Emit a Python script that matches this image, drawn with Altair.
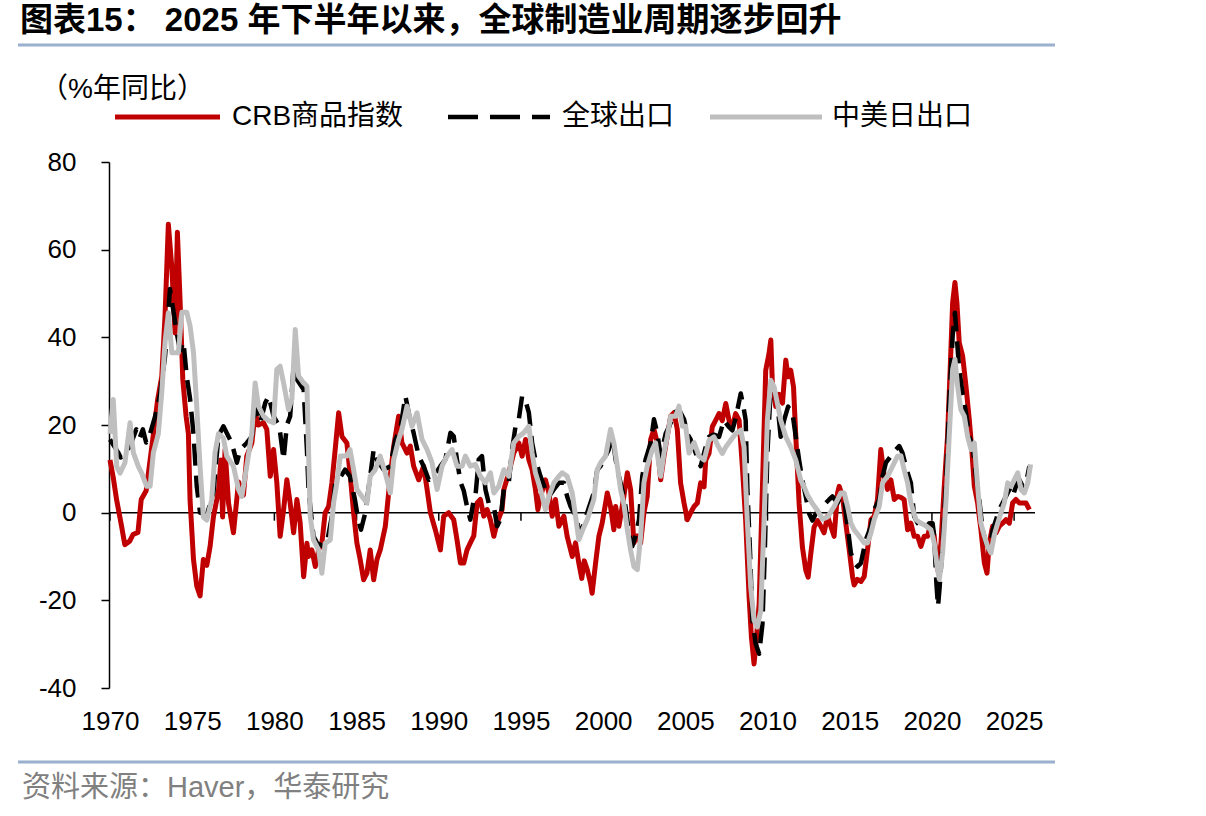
import altair as alt
import pandas as pd

# ---- series: year-on-year % change, dated in decimal years ----
crb_year = [1970.00, 1970.20, 1970.40, 1970.70, 1970.90, 1971.20, 1971.40, 1971.70, 1971.90, 1972.20,
            1972.60, 1972.90, 1973.15, 1973.35, 1973.55, 1973.76, 1973.96, 1974.10, 1974.26, 1974.43,
            1974.63, 1974.77, 1974.87, 1975.08, 1975.28, 1975.48, 1975.68, 1975.89, 1976.09, 1976.29,
            1976.60, 1976.75, 1976.85, 1977.00, 1977.21, 1977.51, 1977.82, 1978.12, 1978.32, 1978.63,
            1978.83, 1979.03, 1979.34, 1979.54, 1979.75, 1979.95, 1980.15, 1980.35, 1980.56, 1980.76,
            1980.96, 1981.17, 1981.37, 1981.57, 1981.78, 1981.98, 1982.08, 1982.28, 1982.49, 1982.69,
            1982.89, 1983.09, 1983.30, 1983.50, 1983.70, 1983.91, 1984.11, 1984.41, 1984.60, 1984.82,
            1985.02, 1985.22, 1985.43, 1985.63, 1985.83, 1986.04, 1986.24, 1986.44, 1986.75, 1987.05,
            1987.26, 1987.56, 1987.76, 1988.07, 1988.27, 1988.47, 1988.78, 1989.08, 1989.29, 1989.49,
            1989.79, 1990.10, 1990.30, 1990.60, 1990.91, 1991.11, 1991.32, 1991.52, 1991.72, 1991.92,
            1992.13, 1992.33, 1992.53, 1992.74, 1992.94, 1993.14, 1993.35, 1993.55, 1993.85, 1993.96,
            1994.26, 1994.56, 1994.87, 1995.07, 1995.28, 1995.48, 1995.68, 1995.88, 1996.03, 1996.19,
            1996.49, 1996.70, 1996.90, 1997.10, 1997.31, 1997.61, 1997.81, 1998.12, 1998.32, 1998.52,
            1998.70, 1998.85, 1999.03, 1999.23, 1999.33, 1999.54, 1999.74, 1999.94, 2000.15, 2000.25,
            2000.45, 2000.65, 2000.76, 2000.96, 2001.26, 2001.47, 2001.67, 2001.87, 2002.08, 2002.28,
            2002.48, 2002.68, 2002.89, 2003.09, 2003.29, 2003.50, 2003.70, 2003.90, 2004.11, 2004.31,
            2004.51, 2004.71, 2004.92, 2005.12, 2005.32, 2005.53, 2005.73, 2005.93, 2006.14, 2006.24,
            2006.44, 2006.64, 2006.85, 2007.05, 2007.25, 2007.46, 2007.66, 2007.86, 2008.06, 2008.27,
            2008.47, 2008.67, 2008.88, 2009.02, 2009.18, 2009.34, 2009.49, 2009.69, 2009.89, 2010.09,
            2010.20, 2010.30, 2010.50, 2010.70, 2010.91, 2011.11, 2011.25, 2011.41, 2011.58, 2011.72,
            2011.92, 2012.12, 2012.33, 2012.47, 2012.63, 2012.83, 2013.04, 2013.24, 2013.44, 2013.65,
            2013.85, 2014.05, 2014.26, 2014.36, 2014.56, 2014.76, 2014.97, 2015.17, 2015.27, 2015.47,
            2015.68, 2015.88, 2016.08, 2016.29, 2016.49, 2016.69, 2016.89, 2017.10, 2017.30, 2017.50,
            2017.71, 2017.91, 2018.11, 2018.31, 2018.52, 2018.72, 2018.92, 2019.13, 2019.33, 2019.53,
            2019.73, 2019.94, 2020.14, 2020.34, 2020.55, 2020.75, 2020.95, 2021.11, 2021.26, 2021.40,
            2021.52, 2021.66, 2021.87, 2022.07, 2022.27, 2022.41, 2022.58, 2022.78, 2022.98, 2023.19,
            2023.35, 2023.49, 2023.69, 2023.90, 2024.10, 2024.30, 2024.50, 2024.71, 2024.91, 2025.11,
            2025.32, 2025.52, 2025.72, 2025.93]
crb_yoy = [12, 8, 3, -3, -7.3, -6.5, -5, -4.5, 3, 5,
           16.7, 25.8, 31, 45, 65.8, 56, 41, 64, 48.7, 30.4,
           22, 18, 3, -10.7, -16.8, -19, -10.7, -12, -7.7, -1,
           5, 12, -1, 14.4, 2.2, -4.6, 7, 4, 12.9, 15.9,
           22.8, 20, 20.5, 19, 8.3, 14.4, 6.8, -5.4, 0.7, 7.5,
           2.2, -4.6, 3, -2.4, -14.6, -7, -10, -8.5, -12.3, -8.5,
           -7, 0, 1.4, 6.8, 14.4, 22.8, 17.4, 15.9, 9.1, 0,
           -6.9, -10.7, -15.3, -13.8, -8.5, -15.3, -10.7, -8.5, -3.1, 8.3,
           15.2, 22, 15.9, 13.6, 15.2, 10.6, 7.5, 10.6, 5.3, 0,
           -3.9, -8.5, -0.8, 0, -1.6, -6.2, -11.5, -11.5, -8.5, -6.9,
           -5.3, 2.2, 3, -0.8, 0.7, -1.6, -5.4, -2.3, 0.7, 5.3,
           9.1, 13.6, 15.9, 12.9, 16.7, 12.1, 9.8, 5.3, 0.7, 3.7,
           7.5, 4.5, -0.8, 3, -3.1, -0.8, -5.4, -10, -6.9, -11.5,
           -15, -11, -13, -16, -18.4, -11.5, -5.4, -2.4, 2.2, 4.5,
           1.4, -3.9, 1.4, -3.1, 3.7, 9.1, 5.3, -6.9, -5.3, -6.9,
           0, 3.7, 16.7, 19, 16, 7.5, 12.9, 17.4, 22, 22.8,
           19, 6.8, 2.2, -1.6, 0, 1.4, 2.2, 6.8, 5.9, 12,
           13.5, 19.6, 21.1, 22.6, 21, 24.9, 21, 19.6, 22.6, 21.1,
           10.4, -1.8, -19.3, -28.4, -34.5, -28, -20.8, 5.9, 32.5, 36.3,
           39.4, 28.7, 24.2, 27, 25, 34.8, 31, 32.5, 28.7, 17.3,
           2.1, -7.8, -13.2, -14.7, -9.4, -3.3, -1.8, -3.1, -4.6, -0.8,
           -3.1, -5.4, 4.5, 6, 3.7, -2.4, -8.5, -14.6, -16.5, -15.2,
           -15.7, -14.6, -8.5, -1.6, -0.8, 3, 14.4, 8.3, 5.3, 7.5,
           3, 3.7, 3.5, 3, -3.9, -2.4, -5.4, -5.4, -7.7, -5.4,
           -5.4, -2.4, -5.4, -13, -7, 6, 17.4, 32.7, 47.9, 52.5,
           47.9, 38.8, 35.7, 28.9, 21.3, 15.2, 6, 2.2, -3.9, -11.5,
           -13.8, -6.9, -3.1, -4.6, -3.1, -2.4, -1.6, -2.4, 2.2, 3,
           2.2, 2.2, 2.2, 0.7]

world_year = [1970.00, 1970.50, 1970.65, 1971.20, 1971.60, 1971.80, 1972.00, 1972.20, 1972.40, 1972.75,
              1973.05, 1973.35, 1973.65, 1973.86, 1974.06, 1974.26, 1974.47, 1974.67, 1974.87, 1975.08,
              1975.28, 1975.48, 1975.89, 1976.29, 1976.60, 1976.90, 1977.21, 1977.41, 1977.72, 1977.92,
              1978.32, 1978.63, 1978.83, 1979.14, 1979.44, 1979.65, 1979.95, 1980.30, 1980.56, 1980.76,
              1980.96, 1981.17, 1981.37, 1981.78, 1981.98, 1982.08, 1982.38, 1982.59, 1982.99, 1983.19,
              1983.50, 1983.70, 1984.00, 1984.30, 1984.60, 1984.90, 1985.10, 1985.27, 1985.53, 1985.83,
              1986.04, 1986.24, 1986.65, 1987.05, 1987.36, 1987.66, 1987.97, 1988.17, 1988.47, 1988.78,
              1989.08, 1989.39, 1989.69, 1990.10, 1990.40, 1990.71, 1990.91, 1991.11, 1991.32, 1991.52,
              1991.72, 1991.92, 1992.13, 1992.23, 1992.43, 1992.63, 1992.84, 1993.04, 1993.35, 1993.55,
              1993.75, 1993.96, 1994.26, 1994.46, 1994.67, 1994.87, 1995.07, 1995.28, 1995.48, 1995.68,
              1995.88, 1996.19, 1996.49, 1996.70, 1997.00, 1997.31, 1997.61, 1997.81, 1998.02, 1998.32,
              1998.62, 1999.03, 1999.43, 1999.64, 1999.84, 2000.04, 2000.35, 2000.55, 2000.76, 2000.96,
              2001.16, 2001.36, 2001.57, 2001.77, 2001.97, 2002.18, 2002.38, 2002.58, 2002.89, 2003.09,
              2003.29, 2003.50, 2003.80, 2004.11, 2004.31, 2004.61, 2004.92, 2005.12, 2005.32, 2005.63,
              2005.93, 2006.24, 2006.44, 2006.74, 2007.05, 2007.35, 2007.66, 2007.86, 2008.06, 2008.37,
              2008.53, 2008.67, 2008.77, 2008.94, 2009.08, 2009.28, 2009.49, 2009.69, 2009.83, 2009.99,
              2010.20, 2010.40, 2010.60, 2010.80, 2011.00, 2011.25, 2011.52, 2011.72, 2011.92, 2012.12,
              2012.33, 2012.53, 2012.73, 2012.94, 2013.24, 2013.54, 2013.75, 2013.95, 2014.26, 2014.46,
              2014.66, 2014.87, 2015.07, 2015.27, 2015.47, 2015.68, 2015.98, 2016.29, 2016.49, 2016.79,
              2017.00, 2017.20, 2017.50, 2017.81, 2018.01, 2018.21, 2018.52, 2018.72, 2018.92, 2019.13,
              2019.33, 2019.53, 2019.84, 2020.04, 2020.14, 2020.27, 2020.37, 2020.47, 2020.65, 2020.85,
              2021.05, 2021.26, 2021.40, 2021.52, 2021.66, 2021.87, 2022.07, 2022.27, 2022.48, 2022.68,
              2022.88, 2023.08, 2023.29, 2023.49, 2023.69, 2023.90, 2024.10, 2024.30, 2024.50, 2024.71,
              2024.91, 2025.11, 2025.32, 2025.52, 2025.72, 2025.93]
world_yoy = [16.7, 13.7, 12.6, 15, 19, 17, 19, 16, 17.5, 22,
             27, 35.7, 51, 46, 41, 37, 39, 31, 26, 18,
             6, 0, -0.5, 4.5, 17.5, 19.7, 17.4, 15.9, 11.4, 14.4,
             15.9, 17.4, 24.3, 20.5, 25, 26.6, 22, 19.7, 12.1, 20,
             22, 33.4, 30.4, 28.1, 14.4, 5, -5.4, -6.9, -7.7, -7,
             -0.8, 6.8, 8, 9.8, 8.3, 3, -1.6, -3.9, 0, 8.3,
             14.4, 12.1, 9.8, 10.6, 16.7, 19, 26.6, 22.8, 18.2, 12.9,
             10.6, 7.5, 8.3, 10.6, 12.1, 18.2, 17.4, 12, 7, 5,
             1.4, -1.6, 3, 3.7, 12.1, 12.9, 5.3, 2.2, 1.4, -3.1,
             -1.6, 5.3, 6.8, 14.4, 19.7, 21.3, 26.6, 25.5, 22.8, 15.9,
             12.1, 8.3, 5.3, 3.7, 5.3, 6.8, 6.8, 3.7, 1.4, -0.8,
             -5, 0, 4.5, 9.8, 10.6, 12.1, 14.4, 18.2, 12.1, 8.3,
             5.3, 1.4, -4.6, -7.7, -5.3, -1.6, 8.3, 12.1, 15.9, 21.3,
             18.2, 12.9, 18, 20.5, 22.8, 23.5, 21.3, 18, 16.7, 13.6,
             10.6, 15, 17.3, 17.8, 17.3, 21.1, 19.5, 18.8, 21.5, 27.2,
             24.2, 21.1, 5.9, -9.4, -24.6, -29.9, -32.2, -25.4, -9.4, 13.5,
             28.7, 28, 24.9, 17.3, 21, 24.2, 22.6, 17.3, 12, 7.4,
             3.6, -0.2, -1.8, -0.2, 0.7, 2.2, 3, 3.7, 2.2, 3.7,
             3, -3.1, -9.2, -11.5, -12.3, -11.5, -6.2, -3.1, 0.7, 3,
             8.3, 11.4, 12.9, 14.4, 15.2, 13.6, 9.1, 6.8, -0.8, -2.4,
             -3.1, -3.9, -2.4, -2.4, -5.4, -16, -21.4, -17, -6.9, 6,
             25, 40.3, 45.6, 39.5, 32.7, 27, 22.8, 17.4, 15.2, 8.3,
             3, -3.9, -6.9, -8.5, -4, -1.6, 0.7, 2.2, 3.7, 5.3,
             3.7, 6, 7.5, 6, 6.8, 10.6]

cuj_year = [1970.00, 1970.20, 1970.41, 1970.61, 1970.91, 1971.22, 1971.42, 1971.73, 1971.93, 1972.23,
            1972.44, 1972.64, 1972.94, 1973.15, 1973.35, 1973.55, 1973.76, 1974.16, 1974.37, 1974.67,
            1974.87, 1975.08, 1975.28, 1975.48, 1975.68, 1975.89, 1976.19, 1976.39, 1976.60, 1976.90,
            1977.10, 1977.51, 1977.82, 1978.02, 1978.32, 1978.63, 1978.83, 1979.03, 1979.34, 1979.64,
            1979.95, 1980.15, 1980.35, 1980.56, 1980.86, 1981.07, 1981.27, 1981.47, 1981.78, 1981.98,
            1982.18, 1982.38, 1982.69, 1982.89, 1983.09, 1983.40, 1983.60, 1983.80, 1984.01, 1984.41,
            1984.60, 1984.82, 1985.02, 1985.33, 1985.63, 1985.83, 1986.14, 1986.44, 1986.75, 1987.05,
            1987.26, 1987.56, 1987.76, 1988.07, 1988.37, 1988.68, 1988.98, 1989.29, 1989.59, 1989.90,
            1990.20, 1990.50, 1990.81, 1991.11, 1991.42, 1991.62, 1991.92, 1992.23, 1992.53, 1992.84,
            1993.14, 1993.35, 1993.65, 1993.96, 1994.26, 1994.56, 1994.87, 1995.17, 1995.48, 1995.68,
            1995.88, 1996.19, 1996.49, 1996.70, 1997.00, 1997.31, 1997.51, 1997.81, 1998.12, 1998.32,
            1998.52, 1998.80, 1999.03, 1999.43, 1999.64, 1999.84, 2000.15, 2000.45, 2000.65, 2000.86,
            2001.06, 2001.26, 2001.47, 2001.67, 2001.87, 2002.08, 2002.28, 2002.48, 2002.68, 2002.99,
            2003.19, 2003.50, 2003.70, 2003.90, 2004.11, 2004.41, 2004.61, 2004.82, 2005.02, 2005.22,
            2005.53, 2005.83, 2006.14, 2006.44, 2006.74, 2006.95, 2007.25, 2007.46, 2007.76, 2008.06,
            2008.37, 2008.57, 2008.77, 2008.98, 2009.18, 2009.38, 2009.59, 2009.79, 2009.99, 2010.20,
            2010.40, 2010.60, 2010.80, 2011.11, 2011.41, 2011.72, 2012.02, 2012.23, 2012.43, 2012.73,
            2013.04, 2013.34, 2013.65, 2014.05, 2014.46, 2014.66, 2014.87, 2015.07, 2015.27, 2015.58,
            2015.88, 2016.08, 2016.29, 2016.49, 2016.79, 2017.00, 2017.30, 2017.61, 2017.91, 2018.11,
            2018.31, 2018.52, 2018.72, 2019.03, 2019.33, 2019.63, 2019.94, 2020.14, 2020.34, 2020.45,
            2020.65, 2020.85, 2021.05, 2021.26, 2021.40, 2021.56, 2021.76, 2021.97, 2022.17, 2022.38,
            2022.58, 2022.78, 2022.98, 2023.19, 2023.39, 2023.59, 2023.80, 2024.00, 2024.20, 2024.40,
            2024.61, 2024.81, 2025.01, 2025.22, 2025.42, 2025.62, 2025.83, 2026.00]
cuj_yoy = [18, 25.8, 10.5, 9, 11.4, 20.5, 13.7, 10.5, 9, 6,
           6, 13.7, 18, 27.4, 38.9, 45.6, 36.5, 36.5, 45.7, 45.7,
           42.6, 36.5, 24, 10.5, -1, -1.7, 3, 13.7, 18, 17,
           12.9, 10.6, 5.3, 3.7, 10.6, 18.2, 29.6, 24.3, 22, 21,
           20.5, 32.7, 33.4, 29.6, 23.5, 26, 41.8, 31.2, 29.6, 28.9,
           -0.8, -6.2, -8.5, -13.8, -7, -6.2, 2.2, 6.8, 12.9, 12.9,
           14.4, 9.8, 5.3, 3.7, 2.2, 8.3, 9.8, 12.9, 9, 4.5,
           12.1, 16.7, 19, 24.3, 19.7, 22.8, 16.7, 14.4, 11.4, 5.3,
           10.6, 12.9, 14.4, 10.6, 10.6, 12.9, 10.6, 11, 8.3, 6.8,
           9.1, 4.5, 6, 9.8, 8.3, 15.9, 17.4, 18.2, 19.7, 13.6,
           9.1, 5.3, 0.7, 3.7, 6.8, 8.3, 9.1, 8.3, 4.5, -0.8,
           -6.2, -3.5, -1.6, 3, 9.8, 11.4, 12.9, 19, 15.9, 10.6,
           5.3, 2, -3.9, -8.5, -12.3, -13, -5.4, 6.8, 10.6, 14.4,
           15.9, 8.3, 13.6, 17.4, 22, 22, 24.3, 19.7, 19.7, 13.6,
           16, 12.9, 12, 16.5, 17.3, 15.5, 13.5, 15, 16.5, 18,
           18.8, 15, -1.8, -17, -24.6, -26.1, -22.3, -1.8, 21.1, 30.2,
           28.7, 24.9, 21.1, 17.3, 15, 12, 7.4, 5.9, 4, 2.1,
           0.5, -1.5, -1, 1.4, 4.5, 4.5, 1.4, -2.4, -3.9, -5.4,
           -6.9, -6.9, -4.6, -1.6, 1.4, 6.8, 8.3, 10.6, 12.9, 13,
           9.8, 6.8, 2.2, -1.6, -2.4, -3, -3.9, -6.9, -13, -15.2,
           -9.2, 2.2, 17.4, 32.7, 35, 28.9, 23.5, 22, 17.4, 14.4,
           15.9, 6, -2.4, -5.4, -7.7, -9.2, -5, -2.4, 0, 2.2,
           6.8, 6, 7.5, 9.1, 5.3, 4.5, 6.8, 11]

# ---- axes and texts ----
x_ticks = [1970, 1975, 1980, 1985, 1990, 1995, 2000, 2005, 2010, 2015, 2020, 2025]
y_ticks = [-40, -20, 0, 20, 40, 60, 80]

title_text = "图表15： 2025 年下半年以来，全球制造业周期逐步回升"
unit_text = "（%年同比）"
legend_names = ["CRB商品指数", "全球出口", "中美日出口"]
source_text = "资料来源：Haver，华泰研究"

RED, BLACK, GREY = "#C00000", "#000000", "#BFBFBF"
RULE_BLUE = "#9AB0CE"
FONT = "Liberation Sans, Noto Sans CJK SC"

# plot area geometry (pixels)
W, H = 926, 526
PAD = {"left": 109, "top": 162, "right": 1206 - 109 - W, "bottom": 816 - 162 - H}
Y_ZERO = H * 80 / 120

x_scale = alt.Scale(domain=[1969.94, 2026.27], nice=False, zero=False)
y_scale = alt.Scale(domain=[-40, 80], nice=False, zero=False)

x_axis = alt.Axis(values=x_ticks, labelExpr="'' + datum.value", domain=False, ticks=False,
                  tickSize=0, grid=False, title=None, labelFont=FONT, labelFontSize=26,
                  labelColor="black", labelPadding=20, labelFlush=False, labelOverlap=False)
y_axis = alt.Axis(values=y_ticks, labelExpr="'' + datum.value", domainColor="black",
                  domainWidth=1.5, tickColor="black", tickWidth=1.5, tickSize=8, grid=False,
                  title=None, labelFont=FONT, labelFontSize=26, labelColor="black",
                  labelPadding=25, labelFlush=False, labelOverlap=False)

X = alt.X("year:Q", scale=x_scale, axis=x_axis)
Y = alt.Y("yoy:Q", scale=y_scale, axis=y_axis)

ONE = pd.DataFrame({"k": [0]})


def series(years, values, color, width, dash=None):
    df = pd.DataFrame({"year": years, "yoy": values})
    props = dict(color=color, strokeWidth=width, clip=False, strokeJoin="round")
    if dash:
        props["strokeDash"] = dash
    return alt.Chart(df).mark_line(**props).encode(x=X, y=Y)


def text(label, x, y, size, color="black", weight="normal"):
    return alt.Chart(ONE).mark_text(align="left", baseline="middle", font=FONT,
                                    fontSize=size, fontWeight=weight, color=color).encode(
        x=alt.value(x), y=alt.value(y), text=alt.value(label))


def hline(x1, x2, y, color, width, dash=None):
    props = dict(color=color, strokeWidth=width)
    if dash:
        props["strokeDash"] = dash
    return alt.Chart(ONE).mark_rule(**props).encode(
        x=alt.value(x1), x2=alt.value(x2), y=alt.value(y))


zero_line = alt.Chart(pd.DataFrame({"yoy": [0]})).mark_rule(color="black", strokeWidth=1.5).encode(
    y=Y, x=alt.value(0), x2=alt.value(W))
zero_ticks = alt.Chart(pd.DataFrame({"year": x_ticks})).mark_rule(color="black", strokeWidth=1.5).encode(
    x=X, y=alt.value(Y_ZERO), y2=alt.value(Y_ZERO + 8))

crb_line = series(crb_year, crb_yoy, RED, 5)
world_line = series(world_year, world_yoy, BLACK, 4.5, [22, 10])
cuj_line = series(cuj_year, cuj_yoy, GREY, 5)

dx, dy = PAD["left"], PAD["top"]
decor = [
    text(title_text, 20 - dx, 21 - dy, 33, weight="bold"),
    hline(18 - dx, 1055 - dx, 45 - dy, RULE_BLUE, 3),
    text(unit_text, 40 - dx, 90 - dy, 28),
    hline(115 - dx, 220 - dx, 117 - dy, RED, 5),
    text(legend_names[0], 232 - dx, 117 - dy, 28),
    hline(448 - dx, 550 - dx, 117 - dy, BLACK, 4.5, [30, 12]),
    text(legend_names[1], 562 - dx, 117 - dy, 28),
    hline(710 - dx, 822 - dx, 117 - dy, GREY, 5),
    text(legend_names[2], 832 - dx, 117 - dy, 28),
    hline(18 - dx, 1055 - dx, 762 - dy, RULE_BLUE, 3),
    text(source_text, 22 - dx, 788 - dy, 29, color="#808080"),
]

chart = alt.layer(zero_line, zero_ticks, crb_line, world_line, cuj_line, *decor).properties(
    width=W, height=H, padding=PAD, background="white",
    autosize=alt.AutoSizeParams(type="none"),
).configure_view(stroke=None)

chart.save("out.html", embed_options={"renderer": "svg", "actions": False})
